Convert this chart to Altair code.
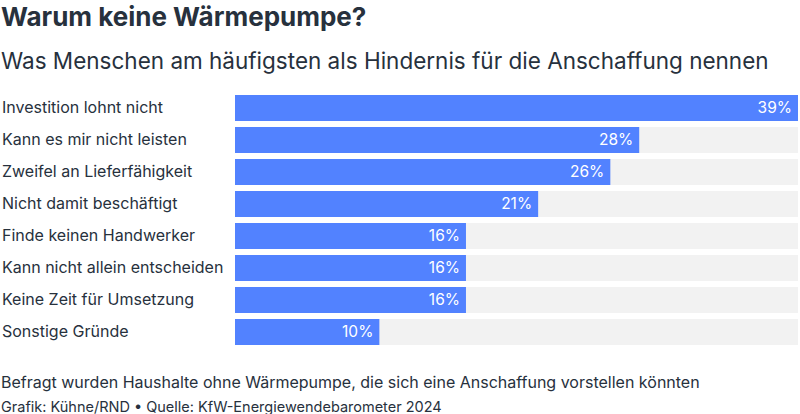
import altair as alt
import pandas as pd

categories = [
    "Investition lohnt nicht",
    "Kann es mir nicht leisten",
    "Zweifel an Lieferfähigkeit",
    "Nicht damit beschäftigt",
    "Finde keinen Handwerker",
    "Kann nicht allein entscheiden",
    "Keine Zeit für Umsetzung",
    "Sonstige Gründe",
]
values = [39, 28, 26, 21, 16, 16, 16, 10]

title = "Warum keine Wärmepumpe?"
subtitle = "Was Menschen am häufigsten als Hindernis für die Anschaffung nennen"
note = "Befragt wurden Haushalte ohne Wärmepumpe, die sich eine Anschaffung vorstellen könnten"
credit = "Grafik: Kühne/RND • Quelle: KfW-Energiewendebarometer 2024"

FONT = "Inter"
TXT = "#27313d"
BAR = "#5282ff"
BG = "#f2f2f2"

df = pd.DataFrame({"cat": categories, "val": values, "max": [max(values)] * len(values)})
df["lab"] = df["val"].astype(str) + "%"

y = alt.Y("cat:N", sort=categories, axis=None,
          scale=alt.Scale(paddingInner=0.19, paddingOuter=0.095))
xs = alt.Scale(domain=[0, max(values)], nice=False, zero=True)

base = alt.Chart(df)
bg = base.mark_bar(color=BG).encode(x=alt.X("max:Q", scale=xs, axis=None), y=y)
bars = base.mark_bar(color=BAR).encode(x=alt.X("val:Q", scale=xs, axis=None), y=y)
vals = base.mark_text(color="white", align="right", dx=-6, font=FONT, fontSize=15.5).encode(
    x=alt.X("val:Q", scale=xs, axis=None), y=y, text="lab:N")
labels = base.mark_text(color=TXT, align="left", font=FONT, fontSize=16).encode(
    x=alt.value(-233), y=y, text="cat:N")

def txt(s, yy, size, weight="normal"):
    return alt.Chart(pd.DataFrame({"t": [s]})).mark_text(
        align="left", baseline="alphabetic", color=TXT, font=FONT,
        fontSize=size, fontWeight=weight).encode(x=alt.value(-234), y=alt.value(yy), text="t:N")

chart = alt.layer(
    bg, bars, vals, labels,
    txt(title, -92 + 26, 26, "bold"),
    txt(subtitle, -92 + 69, 22.5),
    txt(note, -92 + 388, 16),
    txt(credit, -92 + 412, 14.5),
).properties(
    width=563, height=256,
    autosize=alt.AutoSizeParams(type="none"),
    padding={"left": 235, "top": 92, "right": 2, "bottom": 66},
).configure_view(stroke=None)

chart.save("out.html", embed_options={"renderer": "svg", "actions": False})
